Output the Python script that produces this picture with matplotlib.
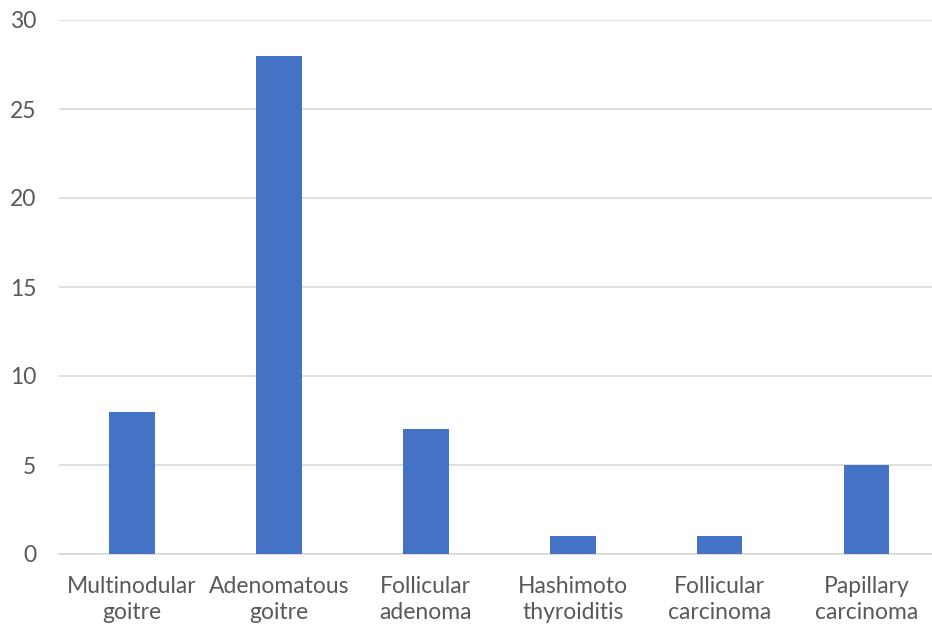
import matplotlib.pyplot as plt

# categorias y conteos
categorias = ["Multinodular\ngoitre", "Adenomatous\ngoitre", "Follicular\nadenoma",
              "Hashimoto\nthyroiditis", "Follicular\ncarcinoma", "Papillary\ncarcinoma"]
conteos = [8, 28, 7, 1, 1, 5]
ticks_y = [0, 5, 10, 15, 20, 25, 30]

plt.rcParams['font.family'] = ['Lato', 'DejaVu Sans']

fig = plt.figure(figsize=(9.32, 6.28), dpi=100)
ax = fig.add_axes([58.5 / 932, 1 - 554 / 628, 1 - 58.5 / 932, (554 - 20) / 628])

x = range(len(categorias))
ax.bar(x, conteos, width=0.31, color="#4472c4", zorder=3)

ax.set_ylim(0, 30)
ax.set_xlim(-0.5, 5.445)
ax.set_yticks(ticks_y)
ax.set_xticks(list(x))
ax.set_xticklabels(categorias, fontsize=16.5, color="#595959", linespacing=1.3)
ax.tick_params(axis="y", labelsize=16.5, labelcolor="#595959", length=0, pad=16)
ax.tick_params(axis="x", length=0, pad=16)

ax.grid(axis="y", color="#d9d9d9", linewidth=1.2, zorder=0)
for s in ["top", "right", "left"]:
    ax.spines[s].set_visible(False)
ax.spines["bottom"].set_color("#d9d9d9")
ax.spines["bottom"].set_linewidth(1.2)

fig.savefig("out.png", dpi=100)
